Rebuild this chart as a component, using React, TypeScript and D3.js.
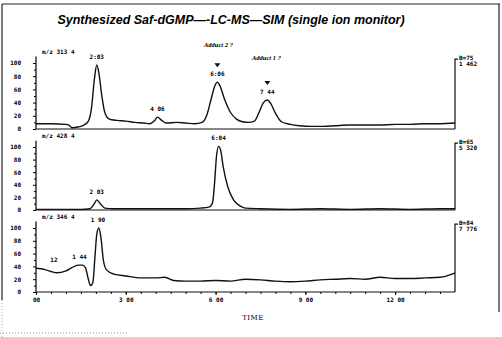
import React, { useEffect, useRef } from 'react';
import * as d3 from 'd3';

// retention time (min) / relative abundance (%)
const t313 = [0, 0.5, 1.0, 1.1, 1.2, 1.4, 1.6, 1.75, 1.85, 1.95, 2.03, 2.1, 2.2, 2.3, 2.45, 2.7, 3.0, 3.3, 3.6, 3.8, 3.95, 4.06, 4.2, 4.35, 4.7, 5.0, 5.3, 5.55, 5.7, 5.85, 5.98, 6.06, 6.15, 6.3, 6.5, 6.7, 6.9, 7.1, 7.3, 7.45, 7.6, 7.73, 7.85, 8.0, 8.2, 8.5, 8.8, 9.2, 9.6, 10.0, 10.5, 11.0, 11.5, 12.0, 12.5, 13.0, 13.5, 14.0];
const i313 = [8, 8, 7, 6, 2, 3, 6, 12, 30, 75, 97, 85, 50, 25, 15, 13, 12, 10, 9, 8, 12, 18, 13, 9, 10, 9, 8, 10, 20, 45, 66, 71, 65, 45, 25, 15, 11, 10, 12, 25, 40, 44, 38, 24, 11, 7, 5, 4, 4, 5, 6, 6, 6, 7, 7, 8, 8, 9];

const t428 = [0, 1.0, 1.5, 1.8, 1.95, 2.03, 2.15, 2.3, 2.6, 3.5, 4.5, 5.0, 5.5, 5.8, 5.9, 5.97, 6.03, 6.1, 6.17, 6.25, 6.4, 6.6, 6.8, 7.0, 7.5, 8.5, 9.5, 10.5, 11.5, 12.5, 13.5, 14.0];
const i428 = [1, 1, 1, 2, 10, 16, 10, 3, 2, 2, 2, 2, 3, 5, 12, 45, 85, 101, 95, 70, 38, 16, 7, 3, 2, 1, 2, 1, 2, 1, 2, 2];

const t346 = [0, 0.3, 0.5, 0.7, 1.0, 1.2, 1.4, 1.55, 1.65, 1.75, 1.82, 1.9, 1.97, 2.03, 2.1, 2.17, 2.25, 2.35, 2.6, 3.0, 3.5, 4.0, 4.3, 4.6, 5.0, 5.5, 6.0, 6.5, 7.0, 7.5, 8.0, 8.5, 9.0, 9.5, 10.0, 10.5, 11.0, 11.5, 12.0, 12.5, 13.0, 13.5, 13.9, 14.0];
const i346 = [37, 35, 32, 30, 33, 38, 42, 42, 38, 20, 10, 15, 55, 90, 100, 85, 50, 35, 28, 25, 22, 22, 23, 18, 17, 17, 18, 17, 20, 19, 17, 16, 17, 19, 20, 21, 20, 23, 21, 21, 22, 23, 28, 30];

const ionLabels = ['m/z 313 4', 'm/z 428 4', 'm/z 346 4'];
const baseLabels = [['B=75', '1 462'], ['B=65', '5 320'], ['B=84', '7 776']];
const yTicks = [0, 20, 40, 60, 80, 100];
const xTicks = [0, 3, 6, 9, 12];
const xTickLabels = ['00', '3 00', '6 00', '9 00', '12 00'];

const peakPanel = [0, 0, 0, 0, 1, 1, 2, 2, 2];
const peakTime = [2.03, 4.06, 6.06, 7.73, 2.03, 6.1, 0.6, 1.45, 2.07];
const peakHeight = [97, 18, 71, 44, 16, 101, 37, 42, 100];
const peakText = ['2:03', '4 06', '6:06', '7 44', '2 03', '6:04', '12', '1 44', '1 90'];
const arrowPeaks = [2, 3];

const Chromatogram = () => {
  const ref = useRef<SVGSVGElement>(null);

  useEffect(() => {
    const svg = d3.select(ref.current);
    svg.selectAll('*').remove();

    const x = d3.scaleLinear().domain([0, 14]).range([36, 455]);
    const panels = [
      { t: t313, v: i313, y: d3.scaleLinear().domain([0, 100]).range([129, 63]) },
      { t: t428, v: i428, y: d3.scaleLinear().domain([0, 100]).range([210, 147]) },
      { t: t346, v: i346, y: d3.scaleLinear().domain([0, 100]).range([292, 228]) },
    ];

    // scan frame
    svg.append('path').attr('d', 'M2,4 L500,4 M2,4 L2,300 M499,4 L499,312')
      .attr('stroke', '#222').attr('stroke-width', 1.2).attr('fill', 'none');
    svg.append('line').attr('x1', 2).attr('x2', 2).attr('y1', 300).attr('y2', 337)
      .attr('stroke', '#aaa').attr('stroke-dasharray', '1,2');
    svg.append('line').attr('x1', 0).attr('x2', 128).attr('y1', 333).attr('y2', 333)
      .attr('stroke', '#999').attr('stroke-dasharray', '1,2');

    svg.append('text').attr('x', 231).attr('y', 24).attr('text-anchor', 'middle')
      .style('font', 'italic bold 12.5px "Liberation Sans", Arial, sans-serif')
      .text('Synthesized Saf-dGMP\u2014-LC-MS\u2014SIM (single ion monitor)');

    const small = 'bold 6px "DejaVu Sans Mono", monospace';

    panels.forEach((p, k) => {
      const g = svg.append('g');
      const y = p.y;

      const ax = g.append('g').attr('transform', 'translate(36,0)')
        .call(d3.axisLeft(y).tickValues(yTicks).tickSize(3).tickFormat(d => String(d)));
      ax.select('.domain').attr('d', `M0,${y(0)}V${y(110)}`).attr('stroke-width', 1.2);
      ax.selectAll('text').style('font', small).attr('x', -15);
      g.append('g').attr('transform', 'translate(36,0)')
        .call(d3.axisLeft(y).tickValues([10, 30, 50, 70, 90]).tickSize(2).tickFormat(() => ''))
        .select('.domain').remove();

      // baseline
      g.append('line').attr('x1', 36).attr('x2', 455).attr('y1', y(0)).attr('y2', y(0))
        .attr('stroke', '#111').attr('stroke-width', 1.2);

      // trace
      const line = d3.line<number>().x((_, i) => x(p.t[i])).y(d => y(d)).curve(d3.curveMonotoneX);
      g.append('path').attr('d', line(p.v)).attr('fill', 'none')
        .attr('stroke', '#111').attr('stroke-width', 1.4);

      // right bracket
      g.append('path').attr('d', `M455,${y(0)}V${y(106)}h3`).attr('fill', 'none')
        .attr('stroke', '#111').attr('stroke-width', 1.2);
      baseLabels[k].forEach((s, j) => {
        g.append('text').attr('x', 459).attr('y', y(104) + j * 6).style('font', small).text(s);
      });

      g.append('text').attr('x', 42).attr('y', y(114)).style('font', small).text(ionLabels[k]);
    });

    // x axis on the lowest panel
    const yb = panels[2].y(0);
    const xa = svg.append('g').attr('transform', `translate(0,${yb})`)
      .call(d3.axisBottom(x).tickValues(xTicks).tickSize(3).tickFormat((_, i) => xTickLabels[i]));
    xa.select('.domain').remove();
    xa.selectAll('text').style('font', small).attr('y', 6);
    svg.append('g').attr('transform', `translate(0,${yb})`)
      .call(d3.axisBottom(x).tickValues(d3.range(0.5, 14, 0.5)).tickSize(2).tickFormat(() => ''))
      .select('.domain').remove();

    svg.append('text').attr('x', 253).attr('y', 320).attr('text-anchor', 'middle')
      .style('font', '7px "DejaVu Serif", serif').style('letter-spacing', '0.5px').text('TIME');

    // peak labels
    peakText.forEach((s, i) => {
      const y = panels[peakPanel[i]].y;
      const px = x(peakTime[i]);
      const py = y(peakHeight[i]) - 6;
      svg.append('text').attr('x', px).attr('y', py).attr('text-anchor', 'middle')
        .style('font', small).text(s);
    });
    arrowPeaks.forEach(i => {
      const y = panels[0].y;
      const px = x(peakTime[i]);
      const py = y(peakHeight[i]) - 16;
      svg.append('path').attr('d', `M${px - 3},${py - 3}L${px + 3},${py - 3}L${px},${py + 1}Z`)
        .attr('fill', '#111');
    });

    svg.append('text').attr('x', 204).attr('y', 47)
      .style('font', 'italic bold 6.5px "Liberation Serif", serif').text('Adduct 2 ?');
    svg.append('text').attr('x', 252).attr('y', 60)
      .style('font', 'italic bold 6.5px "Liberation Serif", serif').text('Adduct 1 ?');
  }, []);

  return <svg ref={ref} width={502} height={337} style={{ position: 'absolute', left: 0, top: 0, background: '#fff' }} />;
};

export default function App() {
  return <Chromatogram />;
}
